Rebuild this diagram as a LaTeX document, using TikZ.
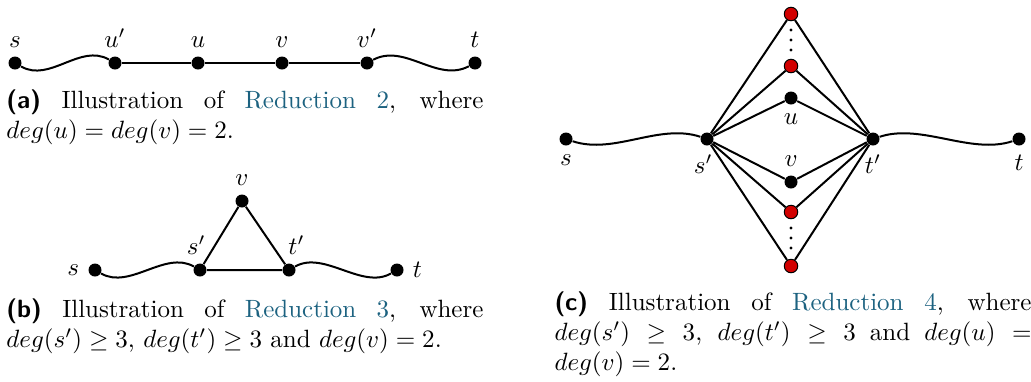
\documentclass[tikz,border=0pt]{standalone}
\usepackage{xcolor}
\definecolor{linkc}{RGB}{28,98,128}
\definecolor{redc}{RGB}{210,0,0}
\begin{document}
\begin{tikzpicture}[x=0.4pt,y=-0.4pt,
  vtx/.style={circle,fill=black,inner sep=0pt,minimum size=5.2pt},
  rvtx/.style={circle,fill=redc,draw=black,line width=0.4pt,inner sep=0pt,minimum size=5.4pt},
  edge/.style={line width=0.8pt},
  captext/.style={anchor=north west,inner sep=0pt,text width=190.8pt,align=justify},
  smalldot/.style={circle,fill=black,inner sep=0pt,minimum size=1.3pt}]
\useasboundingbox (0,0) rectangle (1031,381);
% ---------- (a)
\node[vtx,label=above:$s$] (as) at (15,63) {};
\node[vtx,label=above:$u'$] (aup) at (115,63) {};
\node[vtx,label=above:$u$] (au) at (198,63) {};
\node[vtx,label=above:$v$] (av) at (282,63) {};
\node[vtx,label=above:$v'$] (avp) at (367,63) {};
\node[vtx,label=above:$t$] (at) at (475,63) {};
\draw[edge] (as) .. controls +(35,20) and +(-35,-20) .. (aup);
\draw[edge] (aup) -- (au) -- (av) -- (avp);
\draw[edge] (avp) .. controls +(38,-20) and +(-38,20) .. (at);
\node[captext] (capa) at (6,87) {\strut\textsf{\bfseries (a)} Illustration of \textcolor{linkc}{Reduction 2}, where $deg(u)=deg(v)=2$.};
% ---------- (b)
\node[vtx,label=left:$s$] (bs) at (95,270) {};
\node[vtx,label={[xshift=-1.5pt]above:$s'$}] (bsp) at (200,270) {};
\node[vtx,label={[xshift=3pt]above:$t'$}] (btp) at (289,270) {};
\node[vtx,label=right:$t$] (bt) at (397,270) {};
\node[vtx,label=above:$v$] (bv) at (242,201) {};
\draw[edge] (bs) .. controls +(35,20) and +(-35,-20) .. (bsp);
\draw[edge] (bsp) -- (btp) -- (bv) -- (bsp);
\draw[edge] (btp) .. controls +(35,-20) and +(-35,20) .. (bt);
\node[captext] (capb) at (6,296) {\strut\textsf{\bfseries (b)} Illustration of \textcolor{linkc}{Reduction 3}, where $deg(s')\geq 3$, $deg(t')\geq 3$ and $deg(v)=2$.};
% ---------- (c)
\node[vtx,label=below:$s$] (cs) at (566,139) {};
\node[vtx,label={[xshift=-1.5pt]below:$s'$}] (csp) at (707,139) {};
\node[vtx,label=below:$t'$] (ctp) at (873,139) {};
\node[vtx,label=below:$t$] (ct) at (1019,139) {};
\node[rvtx] (r1) at (791,14) {};
\node[rvtx] (r2) at (791,66) {};
\node[vtx,label=below:$u$] (cu) at (791,98) {};
\node[vtx,label=above:$v$] (cv) at (791,182) {};
\node[rvtx] (r3) at (791,212) {};
\node[rvtx] (r4) at (791,266) {};
\foreach \y/\k in {30/1,40/2,50/3,228/4,238/5,248/6}{
  \node[smalldot] (dd\k) at (791,\y) {};
}
\draw[edge] (cs) .. controls +(48,16) and +(-48,-16) .. (csp);
\draw[edge] (ctp) .. controls +(48,-16) and +(-48,16) .. (ct);
\foreach \n in {r1,r2,cu,cv,r3,r4}{
  \draw[edge] (csp) -- (\n) -- (ctp);
}
\node[captext] (capc) at (554,289) {\strut\textsf{\bfseries (c)} Illustration of \textcolor{linkc}{Reduction 4}, where $deg(s')\geq 3$, $deg(t')\geq 3$ and $deg(u)=deg(v)=2$.};
\end{tikzpicture}
\end{document}
